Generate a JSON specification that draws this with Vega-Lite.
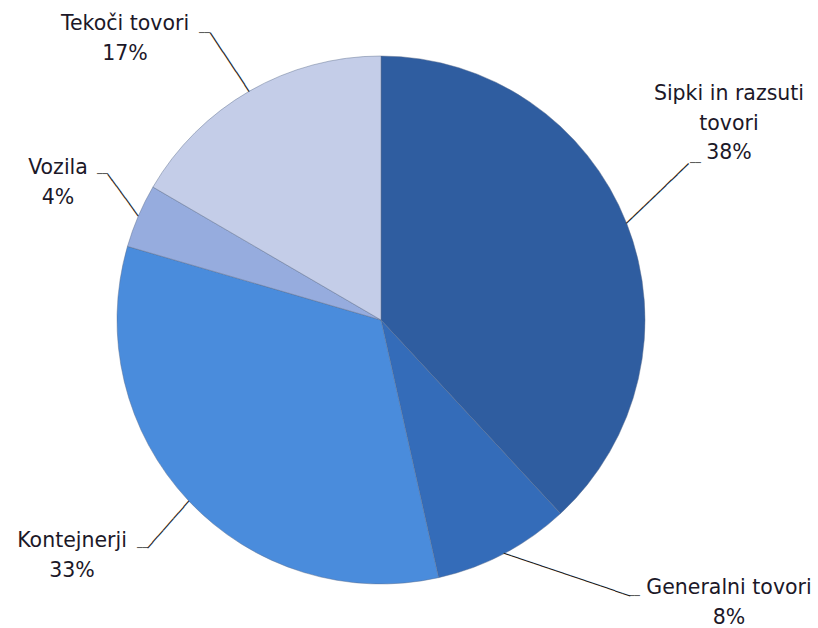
{
  "$schema": "https://vega.github.io/schema/vega-lite/v6.json",
  "width": 762,
  "height": 616,
  "autosize": "none",
  "padding": {"left": 0, "top": 12, "right": 56, "bottom": 0},
  "background": "white",
  "config": {"view": {"stroke": null}},
  "data": {
    "values": [
      {"category": "Sipki in razsuti tovori", "label": "Sipki in razsuti\ntovori\n38%", "share": 38.1, "rank": 1},
      {"category": "Generalni tovori", "label": "Generalni tovori\n8%", "share": 8.4, "rank": 2},
      {"category": "Kontejnerji", "label": "Kontejnerji\n33%", "share": 33.0, "rank": 3},
      {"category": "Vozila", "label": "Vozila\n4%", "share": 3.9, "rank": 4},
      {"category": "Tekoči tovori", "label": "Tekoči tovori\n17%", "share": 16.6, "rank": 5}
    ]
  },
  "encoding": {
    "theta": {"field": "share", "type": "quantitative", "stack": true},
    "order": {"field": "rank", "type": "quantitative"}
  },
  "layer": [
    {
      "mark": {"type": "arc", "outerRadius": 264, "stroke": "#5a6c8c", "strokeOpacity": 0.45, "strokeWidth": 1},
      "encoding": {
        "color": {
          "field": "category",
          "type": "nominal",
          "scale": {
            "domain": ["Sipki in razsuti tovori", "Generalni tovori", "Kontejnerji", "Vozila", "Tekoči tovori"],
            "range": ["#2F5DA0", "#346CB9", "#4A8CDC", "#96ACDE", "#C4CDE8"]
          },
          "legend": null
        }
      }
    },
    {
      "mark": {"type": "text", "radius": 264, "font": "DejaVu Sans Mono", "fontSize": 13, "align": "left", "baseline": "middle", "fill": "#1e1e1e"},
      "encoding": {
        "detail": {"field": "category", "type": "nominal"},
        "text": {
          "condition": [
            {"test": "datum.category === 'Sipki in razsuti tovori'", "value": "───────────"},
            {"test": "datum.category === 'Generalni tovori'", "value": "─────────────────"},
            {"test": "datum.category === 'Kontejnerji'", "value": "────────"},
            {"test": "datum.category === 'Vozila'", "value": "───────"},
            {"test": "datum.category === 'Tekoči tovori'", "value": "─────────"}
          ],
          "value": ""
        },
        "angle": {
          "condition": [
            {"test": "datum.category === 'Sipki in razsuti tovori'", "value": -43.8},
            {"test": "datum.category === 'Generalni tovori'", "value": 18.7},
            {"test": "datum.category === 'Kontejnerji'", "value": 131.3},
            {"test": "datum.category === 'Vozila'", "value": 234.0},
            {"test": "datum.category === 'Tekoči tovori'", "value": 236.4}
          ],
          "value": 0
        },
        "size": {
          "condition": {"test": "datum.category === 'Vozila'", "value": 12.3},
          "value": 13
        }
      }
    },
    {
      "mark": {"type": "text", "radius": 264, "dx": 63.2, "dy": -60.6, "font": "DejaVu Sans Mono", "fontSize": 9, "align": "left", "baseline": "middle", "fill": "#1e1e1e"},
      "encoding": {
        "detail": {"field": "category", "type": "nominal"},
        "text": {"condition": {"test": "datum.category === 'Sipki in razsuti tovori'", "value": "──"}, "value": ""}
      }
    },
    {
      "mark": {"type": "text", "radius": 264, "dx": 125.2, "dy": 42.3, "font": "DejaVu Sans Mono", "fontSize": 9, "align": "left", "baseline": "middle", "fill": "#1e1e1e"},
      "encoding": {
        "detail": {"field": "category", "type": "nominal"},
        "text": {"condition": {"test": "datum.category === 'Generalni tovori'", "value": "──"}, "value": ""}
      }
    },
    {
      "mark": {"type": "text", "radius": 264, "dx": -51.5, "dy": 47.3, "font": "DejaVu Sans Mono", "fontSize": 9, "align": "left", "baseline": "middle", "fill": "#1e1e1e"},
      "encoding": {
        "detail": {"field": "category", "type": "nominal"},
        "text": {"condition": {"test": "datum.category === 'Kontejnerji'", "value": "──"}, "value": ""}
      }
    },
    {
      "mark": {"type": "text", "radius": 264, "dx": -41.4, "dy": -41.9, "font": "DejaVu Sans Mono", "fontSize": 9, "align": "left", "baseline": "middle", "fill": "#1e1e1e"},
      "encoding": {
        "detail": {"field": "category", "type": "nominal"},
        "text": {"condition": {"test": "datum.category === 'Vozila'", "value": "──"}, "value": ""}
      }
    },
    {
      "mark": {"type": "text", "radius": 264, "dx": -50.5, "dy": -58, "font": "DejaVu Sans Mono", "fontSize": 9, "align": "left", "baseline": "middle", "fill": "#1e1e1e"},
      "encoding": {
        "detail": {"field": "category", "type": "nominal"},
        "text": {"condition": {"test": "datum.category === 'Tekoči tovori'", "value": "──"}, "value": ""}
      }
    },
    {
      "mark": {"type": "text", "radius": 264, "dx": 102.2, "dy": -139.3, "align": "center", "baseline": "top", "font": "DejaVu Sans", "fontSize": 20.5, "lineHeight": 29.5, "lineBreak": "\n", "fill": "#1c1828"},
      "encoding": {
        "detail": {"field": "category", "type": "nominal"},
        "text": {"condition": {"test": "datum.category === 'Sipki in razsuti tovori'", "field": "label", "type": "nominal"}, "value": ""}
      }
    },
    {
      "mark": {"type": "text", "radius": 264, "dx": 225.2, "dy": 24.6, "align": "center", "baseline": "top", "font": "DejaVu Sans", "fontSize": 20.5, "lineHeight": 29.5, "lineBreak": "\n", "fill": "#1c1828"},
      "encoding": {
        "detail": {"field": "category", "type": "nominal"},
        "text": {"condition": {"test": "datum.category === 'Generalni tovori'", "field": "label", "type": "nominal"}, "value": ""}
      }
    },
    {
      "mark": {"type": "text", "radius": 264, "dx": -116.5, "dy": 30.6, "align": "center", "baseline": "top", "font": "DejaVu Sans", "fontSize": 20.5, "lineHeight": 29.5, "lineBreak": "\n", "fill": "#1c1828"},
      "encoding": {
        "detail": {"field": "category", "type": "nominal"},
        "text": {"condition": {"test": "datum.category === 'Kontejnerji'", "field": "label", "type": "nominal"}, "value": ""}
      }
    },
    {
      "mark": {"type": "text", "radius": 264, "dx": -80.4, "dy": -57.6, "align": "center", "baseline": "top", "font": "DejaVu Sans", "fontSize": 20.5, "lineHeight": 29.5, "lineBreak": "\n", "fill": "#1c1828"},
      "encoding": {
        "detail": {"field": "category", "type": "nominal"},
        "text": {"condition": {"test": "datum.category === 'Vozila'", "field": "label", "type": "nominal"}, "value": ""}
      }
    },
    {
      "mark": {"type": "text", "radius": 264, "dx": -124.5, "dy": -76.7, "align": "center", "baseline": "top", "font": "DejaVu Sans", "fontSize": 20.5, "lineHeight": 29.5, "lineBreak": "\n", "fill": "#1c1828"},
      "encoding": {
        "detail": {"field": "category", "type": "nominal"},
        "text": {"condition": {"test": "datum.category === 'Tekoči tovori'", "field": "label", "type": "nominal"}, "value": ""}
      }
    }
  ]
}
